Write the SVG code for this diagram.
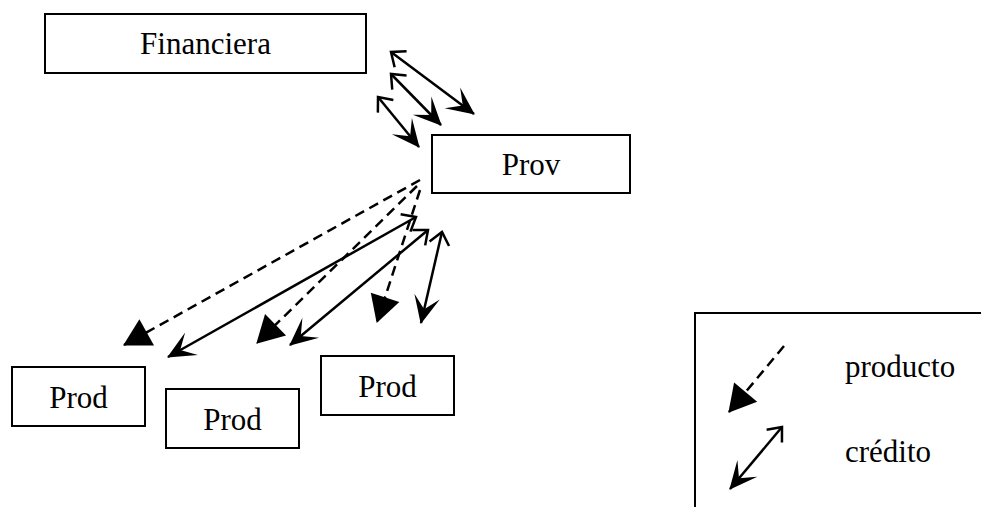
<svg xmlns="http://www.w3.org/2000/svg" width="981" height="507" viewBox="0 0 981 507">
<style>
.box{fill:#fff;stroke:#000;stroke-width:2}
.lbl{font-family:"Liberation Serif","Times New Roman",serif;font-size:31px;fill:#000}
.prod{fill:none;stroke:#000;stroke-width:2.5;stroke-dasharray:10 6;marker-end:url(#tri)}
.cred{fill:none;stroke:#000;stroke-width:2.5;marker-start:url(#vee);marker-end:url(#stealth)}
</style>
<defs>
<marker id="tri" markerUnits="userSpaceOnUse" viewBox="0 0 27 30" refX="26" refY="15" markerWidth="27" markerHeight="30" orient="auto" overflow="visible">
<path d="M0,0 L27,15 L0,30 Z" fill="#000"/>
</marker>
<marker id="stealth" markerUnits="userSpaceOnUse" viewBox="0 0 28 26" refX="27" refY="13" markerWidth="28" markerHeight="26" orient="auto" overflow="visible">
<path d="M0,0 L28,13 L0,26 L13,13 Z" fill="#000"/>
</marker>
<marker id="vee" markerUnits="userSpaceOnUse" viewBox="0 0 13 20" refX="12" refY="10" markerWidth="13" markerHeight="20" orient="auto-start-reverse" overflow="visible">
<path d="M0,0 L12,10 L0,20" fill="none" stroke="#000" stroke-width="2.5"/>
</marker>
</defs>

<g id="connectors">
<line class="cred" x1="391" y1="52" x2="474" y2="114"/>
<line class="cred" x1="391" y1="74" x2="441" y2="125"/>
<line class="cred" x1="378" y1="97" x2="419" y2="147"/>
<line class="prod" x1="420" y1="180" x2="124" y2="345"/>
<line class="prod" x1="417" y1="186" x2="257" y2="343"/>
<line class="prod" x1="420" y1="190" x2="377" y2="322"/>
<line class="cred" x1="416" y1="217" x2="168" y2="357"/>
<line class="cred" x1="428" y1="230" x2="290" y2="345"/>
<line class="cred" x1="442" y1="232" x2="421" y2="323"/>
</g>

<g id="financiera">
<rect class="box" x="45" y="14" width="321" height="59"/>
<text class="lbl" x="205.5" y="54" text-anchor="middle">Financiera</text>
</g>
<g id="prov">
<rect class="box" x="432" y="135" width="198" height="58"/>
<text class="lbl" x="531" y="175" text-anchor="middle">Prov</text>
</g>
<g id="prod1">
<rect class="box" x="12" y="367" width="133" height="59"/>
<text class="lbl" x="78.5" y="408" text-anchor="middle">Prod</text>
</g>
<g id="prod2">
<rect class="box" x="166" y="389" width="133" height="59"/>
<text class="lbl" x="232.5" y="430" text-anchor="middle">Prod</text>
</g>
<g id="prod3">
<rect class="box" x="321" y="356" width="133" height="59"/>
<text class="lbl" x="387.5" y="397" text-anchor="middle">Prod</text>
</g>

<g id="legend">
<rect class="box" x="695" y="313" width="300" height="210"/>
<line class="prod" x1="784" y1="346" x2="729" y2="412"/>
<line class="cred" x1="782" y1="427" x2="730" y2="489"/>
<text class="lbl" x="845" y="377">producto</text>
<text class="lbl" x="845" y="462">crédito</text>
</g>
</svg>
